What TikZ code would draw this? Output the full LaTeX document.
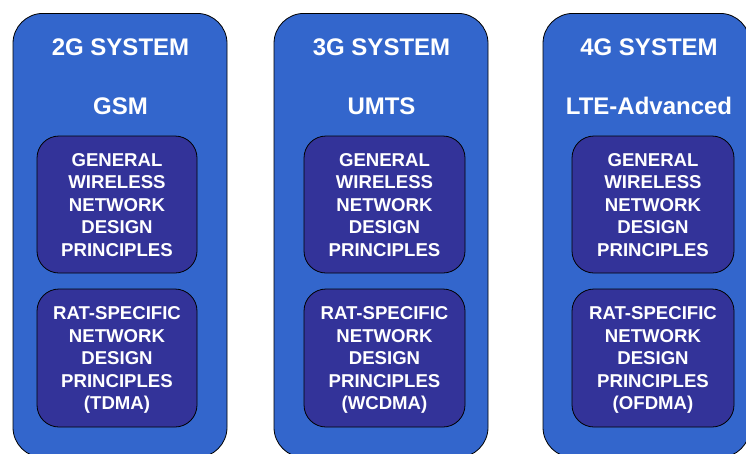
\documentclass[tikz,border=0pt]{standalone}
\usepackage{fontspec}
\setmainfont{Liberation Sans}
\definecolor{outerblue}{HTML}{3366CC}
\definecolor{innerblue}{HTML}{333399}
\begin{document}
\begin{tikzpicture}[x=1pt,y=-1pt,
  sysbox/.style={draw=black,line width=0.8pt,fill=outerblue,rounded corners=30pt,
    minimum height=444pt,inner sep=0pt,anchor=north},
  innerbox/.style={draw=black,line width=0.8pt,fill=innerblue,rounded corners=22pt,
    inner sep=0pt},
  title/.style={text=white,font=\fontsize{24pt}{28pt}\selectfont\bfseries,anchor=base,inner sep=0pt},
  boxtext/.style={text=white,font=\fontsize{18.6pt}{22.5pt}\selectfont\bfseries,align=center,anchor=north,inner sep=0pt}]
\useasboundingbox (0,0) rectangle (746,453);
\clip (0,0) rectangle (746,453);
% outer system boxes
\node[sysbox,minimum width=214pt] (s2) at (120,13) {};
\node[sysbox,minimum width=214pt] (s3) at (381,13) {};
\node[sysbox,minimum width=207pt] (s4) at (646.5,13) {};
% titles
\node[title] (t2) at (120.5,55) {2G SYSTEM};
\node[title] (n2) at (120.5,114) {GSM};
\node[title] (t3) at (381.5,55) {3G SYSTEM};
\node[title] (n3) at (381.5,114) {UMTS};
\node[title] (t4) at (649,55) {4G SYSTEM};
\node[title] (n4) at (649,114) {LTE-Advanced};
% inner boxes
\node[innerbox,minimum width=160pt,minimum height=137pt] (g2) at (117,204.5) {};
\node[innerbox,minimum width=160pt,minimum height=138pt] (r2) at (117,358) {};
\node[innerbox,minimum width=161pt,minimum height=137pt] (g3) at (384.5,204.5) {};
\node[innerbox,minimum width=161pt,minimum height=138pt] (r3) at (384.5,358) {};
\node[innerbox,minimum width=162pt,minimum height=137pt] (g4) at (653,204.5) {};
\node[innerbox,minimum width=162pt,minimum height=138pt] (r4) at (653,358) {};
% inner texts
\node[boxtext] (gt2) at (117,153.3) {GENERAL\\WIRELESS\\NETWORK\\DESIGN\\PRINCIPLES};
\node[boxtext] (rt2) at (117,306.7) {RAT-SPECIFIC\\NETWORK\\DESIGN\\PRINCIPLES\\(TDMA)};
\node[boxtext] (gt3) at (384.5,153.3) {GENERAL\\WIRELESS\\NETWORK\\DESIGN\\PRINCIPLES};
\node[boxtext] (rt3) at (384.5,306.7) {RAT-SPECIFIC\\NETWORK\\DESIGN\\PRINCIPLES\\(WCDMA)};
\node[boxtext] (gt4) at (653,153.3) {GENERAL\\WIRELESS\\NETWORK\\DESIGN\\PRINCIPLES};
\node[boxtext] (rt4) at (653,306.7) {RAT-SPECIFIC\\NETWORK\\DESIGN\\PRINCIPLES\\(OFDMA)};
\end{tikzpicture}
\end{document}
